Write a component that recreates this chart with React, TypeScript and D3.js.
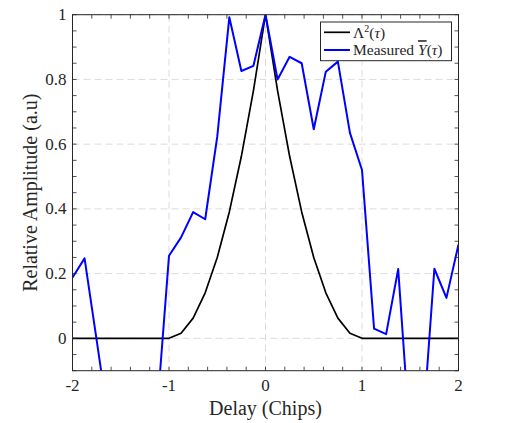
import React from "react";
import * as d3 from "d3";

const tau = [
  -2, -1.875, -1.75, -1.625, -1.5, -1.375, -1.25, -1.125, -1, -0.875, -0.75, -0.625, -0.5, -0.375, -0.25, -0.125,
  0, 0.125, 0.25, 0.375, 0.5, 0.625, 0.75, 0.875, 1, 1.125, 1.25, 1.375, 1.5, 1.625, 1.75, 1.875, 2,
];
const lambdaSq = [
  0, 0, 0, 0, 0, 0, 0, 0, 0, 0.0156, 0.0625, 0.1406, 0.25, 0.3906, 0.5625, 0.7656,
  1, 0.7656, 0.5625, 0.3906, 0.25, 0.1406, 0.0625, 0.0156, 0, 0, 0, 0, 0, 0, 0, 0, 0,
];
const measured = [
  0.188, 0.247, -0.005, -0.26, -0.42, -0.5, -0.44, -0.23, 0.255, 0.312, 0.39, 0.368, 0.623, 0.992, 0.826, 0.842,
  1.0, 0.8, 0.87, 0.85, 0.646, 0.824, 0.855, 0.635, 0.52, 0.03, 0.013, 0.214, -0.32, -0.3, 0.215, 0.125, 0.29,
];
const xTicks = [-2, -1, 0, 1, 2];
const xTickLabels = ["-2", "-1", "0", "1", "2"];
const yTicks = [0, 0.2, 0.4, 0.6, 0.8, 1];
const yTickLabels = ["0", "0.2", "0.4", "0.6", "0.8", "1"];
const xLabel = "Delay (Chips)";
const yLabel = "Relative Amplitude (a.u)";

const W = 505, H = 423;
const L = 72.5, R = 458.5, T = 14.7, B = 370.7;
const FONT = "'Liberation Serif', 'Times New Roman', serif";
const AX = "#262626";

export default function App() {
  const x = d3.scaleLinear().domain([-2, 2]).range([L, R]);
  const y = d3.scaleLinear().domain([-0.1, 1]).range([B, T]);
  const xMinor = d3.range(-2, 2.0001, 0.2);
  const yMinor = d3.range(-0.1, 1.0001, 0.05);
  const line = d3
    .line<number>()
    .x((_, i) => x(tau[i]))
    .y((d) => y(d));
  const tl = 4;
  return (
    <svg width={W} height={H} style={{ position: "absolute", left: 0, top: 0, display: "block", background: "#fff" }}>
      <defs>
        <clipPath id="plotclip">
          <rect x={L} y={T} width={R - L} height={B - T} />
        </clipPath>
      </defs>
      <rect x={L} y={T} width={R - L} height={B - T} fill="#fff" />
      {/* grid */}
      <g stroke="#dcdcdc" strokeWidth={1} strokeDasharray="7,4">
        {xTicks.map((t) => (
          <line key={"gx" + t} x1={x(t)} x2={x(t)} y1={T} y2={B} />
        ))}
        {yTicks.map((t) => (
          <line key={"gy" + t} x1={L} x2={R} y1={y(t)} y2={y(t)} />
        ))}
      </g>
      {/* lines */}
      <g clipPath="url(#plotclip)" fill="none" strokeLinejoin="round">
        <path d={line(lambdaSq) || ""} stroke="#000" strokeWidth={1.7} />
        <path d={line(measured) || ""} stroke="#0000ff" strokeWidth={2} />
      </g>
      {/* ticks */}
      <g stroke={AX} strokeWidth={0.8}>
        {xMinor.map((t, i) => (
          <g key={"xt" + i}>
            <line x1={x(t)} x2={x(t)} y1={B} y2={B - tl} />
            <line x1={x(t)} x2={x(t)} y1={T} y2={T + tl} />
          </g>
        ))}
        {yMinor.map((t, i) => (
          <g key={"yt" + i}>
            <line x1={L} x2={L + tl} y1={y(t)} y2={y(t)} />
            <line x1={R} x2={R - tl} y1={y(t)} y2={y(t)} />
          </g>
        ))}
      </g>
      <rect x={L} y={T} width={R - L} height={B - T} fill="none" stroke={AX} strokeWidth={1} />
      {/* tick labels */}
      <g fill={AX} fontFamily={FONT} fontSize={17}>
        {xTicks.map((t, i) => (
          <text key={"xl" + t} x={x(t)} y={391} textAnchor="middle">
            {xTickLabels[i]}
          </text>
        ))}
        {yTicks.map((t, i) => (
          <text key={"yl" + t} x={66.5} y={y(t)} textAnchor="end" dominantBaseline="central">
            {yTickLabels[i]}
          </text>
        ))}
      </g>
      <text x={(L + R) / 2} y={415} textAnchor="middle" fontFamily={FONT} fontSize={20} fill={AX}>
        {xLabel}
      </text>
      <text
        transform={`translate(36.5,${(T + B) / 2}) rotate(-90)`}
        textAnchor="middle"
        fontFamily={FONT}
        fontSize={20}
        fill={AX}
      >
        {yLabel}
      </text>
      {/* legend */}
      <g>
        <rect x={320.5} y={22} width={131} height={38.7} fill="#fff" stroke={AX} strokeWidth={1} />
        <line x1={324} x2={350} y1={32.3} y2={32.3} stroke="#000" strokeWidth={1.7} />
        <line x1={324} x2={350} y1={50} y2={50} stroke="#0000ff" strokeWidth={2} />
        <text x={353} y={37.5} fontFamily={FONT} fontSize={15.5} fill={AX}>
          Λ<tspan dy={-6} fontSize={10}>2</tspan>
          <tspan dy={6}>(</tspan>
          <tspan fontStyle="italic">τ</tspan>)
        </text>
        <text x={353} y={55.2} fontFamily={FONT} fontSize={15.5} fill={AX}>
          Measured <tspan fontStyle="italic" textDecoration="overline" style={{ textDecoration: "overline" }}>Y</tspan>(
          <tspan fontStyle="italic">τ</tspan>)
        </text>
      </g>
    </svg>
  );
}
